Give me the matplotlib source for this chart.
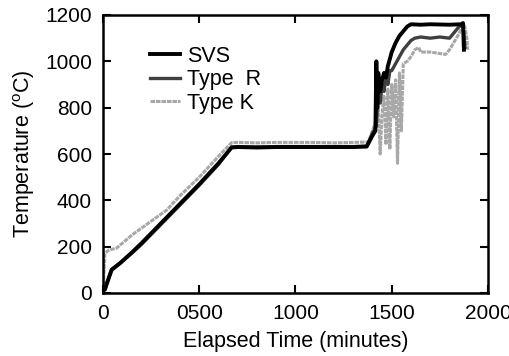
import matplotlib
matplotlib.use("Agg")
import matplotlib.pyplot as plt

plt.rcParams['font.family'] = ['Liberation Sans', 'DejaVu Sans']

# SVS
svs_t = [0, 10, 20, 45, 88, 150, 200, 300, 400, 500, 600, 668, 700, 800, 900, 1000, 1100, 1200, 1300, 1370,
         1400, 1415, 1420, 1425, 1430, 1440, 1450, 1460, 1470, 1480, 1490, 1500, 1520, 1540, 1560, 1580,
         1600, 1650, 1700, 1800, 1860, 1870, 1875]
svs_T = [10, 15, 40, 100, 128, 175, 215, 300, 385, 470, 560, 628, 630, 628, 630, 630, 630, 630, 630, 632,
         680, 700, 1000, 800, 950, 870, 920, 950, 930, 980, 1010, 1040, 1080, 1110, 1130, 1150,
         1160, 1158, 1160, 1158, 1160, 1165, 1050]

# Type R
r_t = [0, 10, 20, 45, 88, 150, 200, 300, 400, 500, 600, 668, 700, 800, 900, 1000, 1100, 1200, 1300, 1370,
       1400, 1420, 1430, 1440, 1450, 1460, 1470, 1480, 1490, 1500, 1520, 1540, 1560, 1580, 1600, 1620,
       1650, 1700, 1750, 1800, 1850, 1870, 1880]
r_T = [10, 18, 45, 102, 130, 172, 210, 295, 380, 465, 555, 630, 632, 630, 632, 632, 632, 632, 632, 634,
       690, 720, 880, 820, 900, 870, 940, 900, 960, 960, 990, 1020, 1050, 1070, 1090, 1100,
       1105, 1100, 1105, 1100, 1150, 1165, 1060]

# Type K
k_t = [0, 10, 30, 71, 150, 250, 331, 400, 500, 600, 668, 700, 800, 900, 1000, 1100, 1200, 1300, 1380,
       1400, 1420, 1430, 1440, 1450, 1460, 1470, 1480, 1490, 1500, 1510, 1520, 1530, 1540, 1550,
       1560, 1580, 1600, 1620, 1640, 1650, 1700, 1780, 1800, 1850, 1870, 1880, 1890, 1895]
k_T = [10, 172, 185, 194, 250, 310, 358, 420, 500, 590, 649, 650, 648, 650, 650, 650, 648, 650, 652,
       700, 750, 800, 600, 780, 850, 640, 880, 620, 900, 760, 920, 560, 950, 700,
       990, 1000, 1020, 1050, 1060, 1040, 1040, 1030, 1050, 1120, 1160, 1150, 1100, 1050]

fig = plt.figure(figsize=(5.10, 3.56), dpi=100)
ax = fig.add_axes([103/510, 1 - 293/356, (488-103)/510, (293-15)/356])

ax.plot(k_t, k_T, color='#a8a8a8', lw=2.2, ls=(0, (1.5, 0.3)), label='Type K', zorder=2)
ax.plot(r_t, r_T, color='#404040', lw=2.4, label='Type  R', zorder=3)
ax.plot(svs_t, svs_T, color='black', lw=2.8, label='SVS', zorder=4)

ax.set_xlim(0, 2000)
ax.set_ylim(0, 1200)
ax.set_xticks([0, 500, 1000, 1500, 2000])
ax.set_xticklabels(['0', '0500', '1000', '1500', '2000'])
ax.set_yticks([0, 200, 400, 600, 800, 1000, 1200])
ax.tick_params(direction='in', length=6, width=1.5, top=True, right=True, labelsize=15, pad=8)
for s in ax.spines.values():
    s.set_linewidth(1.8)

ax.set_xlabel('Elapsed Time (minutes)', fontsize=15.5, labelpad=6)
ax.set_ylabel('Temperature ($^\\mathregular{o}$C)', fontsize=15.5, labelpad=6)

handles, labels = ax.get_legend_handles_labels()
ax.legend(handles[::-1], labels[::-1], loc='upper left', bbox_to_anchor=(0.1, 0.92), frameon=False,
          fontsize=15.5, handlelength=1.4, handletextpad=0.3, labelspacing=0.12, borderaxespad=0)

fig.savefig('out.png', dpi=100)
